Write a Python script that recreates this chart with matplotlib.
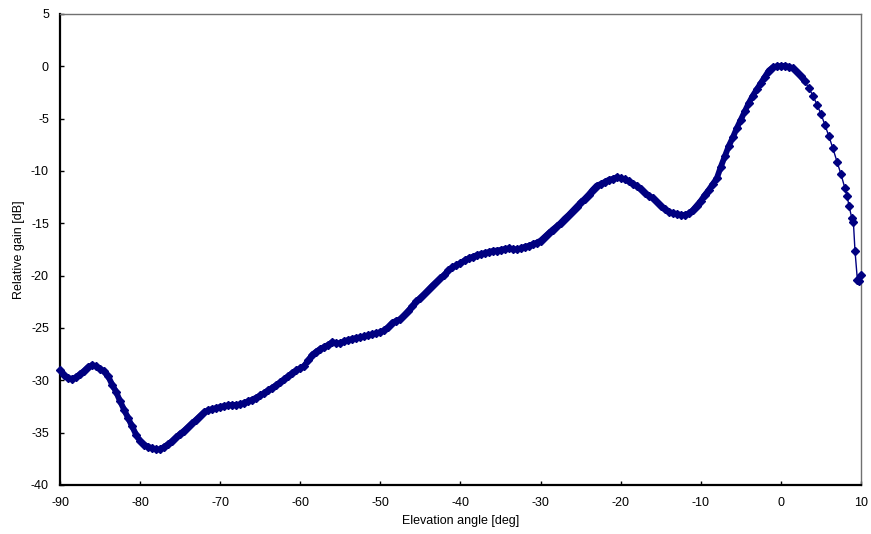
import numpy as np
import matplotlib
matplotlib.use("Agg")
import matplotlib.pyplot as plt

plt.rcParams["font.family"] = ["Liberation Sans", "DejaVu Sans"]
plt.rcParams["axes.unicode_minus"] = False

# elevation angle [deg] (0.5 deg steps, finer at the tail)
angle = [
    -90, -89.5, -89, -88.5, -88, -87.5, -87, -86.5, -86, -85.5,
    -85, -84.5, -84, -83.5, -83, -82.5, -82, -81.5, -81, -80.5,
    -80, -79.5, -79, -78.5, -78, -77.5, -77, -76.5, -76, -75.5,
    -75, -74.5, -74, -73.5, -73, -72.5, -72, -71.5, -71, -70.5,
    -70, -69.5, -69, -68.5, -68, -67.5, -67, -66.5, -66, -65.5,
    -65, -64.5, -64, -63.5, -63, -62.5, -62, -61.5, -61, -60.5,
    -60, -59.5, -59, -58.5, -58, -57.5, -57, -56.5, -56, -55.5,
    -55, -54.5, -54, -53.5, -53, -52.5, -52, -51.5, -51, -50.5,
    -50, -49.5, -49, -48.5, -48, -47.5, -47, -46.5, -46, -45.5,
    -45, -44.5, -44, -43.5, -43, -42.5, -42, -41.5, -41, -40.5,
    -40, -39.5, -39, -38.5, -38, -37.5, -37, -36.5, -36, -35.5,
    -35, -34.5, -34, -33.5, -33, -32.5, -32, -31.5, -31, -30.5,
    -30, -29.5, -29, -28.5, -28, -27.5, -27, -26.5, -26, -25.5,
    -25, -24.5, -24, -23.5, -23, -22.5, -22, -21.5, -21, -20.5,
    -20, -19.5, -19, -18.5, -18, -17.5, -17, -16.5, -16, -15.5,
    -15, -14.5, -14, -13.5, -13, -12.5, -12, -11.5, -11, -10.5,
    -10, -9.5, -9, -8.5, -8, -7.5, -7, -6.5, -6, -5.5,
    -5, -4.5, -4, -3.5, -3, -2.5, -2, -1.5, -1, -0.5,
    0, 0.5, 1, 1.5, 2, 2.5, 3, 3.5, 4, 4.5,
    5, 5.5, 6, 6.5, 7, 7.5, 8, 8.25, 8.5, 8.85,
    9.05, 9.25, 9.55, 9.8, 10.0,
]

# relative gain [dB]
gain = [
    -29.0, -29.5, -29.8, -29.85, -29.7, -29.4, -29.1, -28.75, -28.55, -28.65,
    -28.9, -29.15, -29.6, -30.4, -31.1, -32.0, -32.8, -33.6, -34.4, -35.2,
    -35.8, -36.15, -36.35, -36.5, -36.6, -36.6, -36.35, -36.1, -35.8, -35.45,
    -35.1, -34.8, -34.45, -34.1, -33.75, -33.4, -33.05, -32.85, -32.75, -32.65,
    -32.55, -32.45, -32.4, -32.35, -32.35, -32.3, -32.15, -32.0, -31.85, -31.65,
    -31.45, -31.2, -30.95, -30.7, -30.45, -30.2, -29.9, -29.6, -29.3, -29.05,
    -28.85, -28.6, -28.1, -27.55, -27.25, -27.0, -26.8, -26.6, -26.35, -26.45,
    -26.45, -26.25, -26.15, -26.05, -25.95, -25.9, -25.8, -25.7, -25.6, -25.5,
    -25.4, -25.2, -24.9, -24.5, -24.3, -24.15, -23.8, -23.35, -22.9, -22.45,
    -22.1, -21.75, -21.35, -20.95, -20.6, -20.25, -19.9, -19.5, -19.2, -19.0,
    -18.8, -18.55, -18.35, -18.2, -18.05, -17.95, -17.85, -17.75, -17.65, -17.6,
    -17.55, -17.45, -17.4, -17.45, -17.5, -17.4, -17.25, -17.15, -17.0, -16.85,
    -16.65, -16.3, -15.95, -15.6, -15.3, -14.95, -14.55, -14.2, -13.8, -13.4,
    -13.0, -12.65, -12.25, -11.8, -11.4, -11.25, -11.05, -10.85, -10.75, -10.6,
    -10.7, -10.8, -11.0, -11.2, -11.45, -11.75, -12.1, -12.35, -12.6, -12.95,
    -13.35, -13.65, -13.9, -14.05, -14.1, -14.2, -14.2, -14.05, -13.75, -13.3,
    -12.85, -12.3, -11.8, -11.25, -10.7, -9.6, -8.6, -7.6, -6.8, -5.9,
    -5.1, -4.3, -3.5, -2.8, -2.2, -1.6, -1.0, -0.4, -0.1, 0.0,
    0.02, 0.05, -0.05, -0.2, -0.5, -0.95, -1.45, -2.1, -2.8, -3.65,
    -4.55, -5.6, -6.7, -7.85, -9.1, -10.3, -11.65, -12.35, -13.3, -14.5,
    -14.85, -17.6, -20.4, -20.5, -19.9,
]

NAVY = "#000080"

fig = plt.figure(figsize=(8.71, 5.34), dpi=100)
ax = fig.add_axes([0.0689, 0.0918, 0.9196, 0.882])

# the measured points sit so close together that they merge into a thick band;
# a wide line under the markers reproduces that over the dense part
dense = [i for i, a in enumerate(angle) if a <= 3]
ax.plot([angle[i] for i in dense], [gain[i] for i in dense], color=NAVY,
        lw=4.2, solid_capstyle="round", solid_joinstyle="round", zorder=2)
ax.plot(angle, gain, color=NAVY, lw=1.0, marker="D", ms=4.0,
        mec=NAVY, mfc=NAVY, clip_on=False, zorder=3)

ax.set_xlim(-90, 10)
ax.set_ylim(-40, 5)
ax.set_xticks(np.arange(-90, 11, 10))
ax.set_yticks(np.arange(-40, 6, 5))

for sp in ("left", "bottom"):
    ax.spines[sp].set_linewidth(1.6)
    ax.spines[sp].set_color("black")
for sp in ("top", "right"):
    ax.spines[sp].set_linewidth(1.0)
    ax.spines[sp].set_color("#707070")

ax.tick_params(direction="in", length=3, width=1, labelsize=9)
ax.tick_params(axis="x", pad=9)
ax.tick_params(axis="y", pad=8)
ax.set_xlabel("Elevation angle [deg]", fontsize=9, labelpad=4)
ax.set_ylabel("Relative gain [dB]", fontsize=9, labelpad=4)

fig.savefig("out.png", dpi=100, facecolor="white")
